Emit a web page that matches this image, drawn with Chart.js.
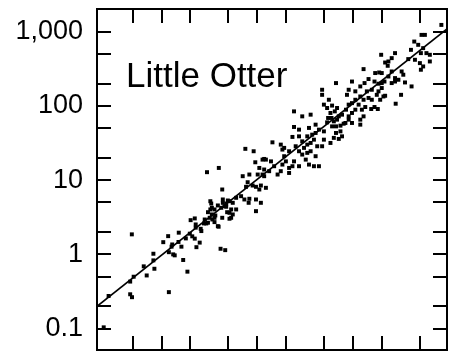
<!DOCTYPE html>
<html>
<head>
<meta charset="utf-8">
<script src="https://cdn.jsdelivr.net/npm/chart.js@4"></script>
<style>
  html, body { margin: 0; padding: 0; background: #fff; }
  canvas { display: block; }
</style>
</head>
<body>
<canvas id="chart" width="451" height="354"></canvas>
<script>
// Axis ranges (both axes logarithmic)
const xMin = 2.11, xMax = 9620;
const yMin = 0.0515, yMax = 2020;

// Inward tick marks on all four sides
const xTickValues = [5, 10, 20, 50, 100, 200, 500, 1000, 2000, 5000];
const yTickValues = [0.1, 0.2, 0.5, 1, 2, 5, 10, 20, 50, 100, 200, 500, 1000];
const yLabelValues = [0.1, 1, 10, 100, 1000];
const yLabels = ['0.1', '1', '10', '100', '1,000'];

const siteName = 'Little Otter';

// Fitted line, end points
const fitX = [2.11, 9620];
const fitY = [0.2, 1090];

// Observations - low end
const lowX = [2.48, 2.79, 4.88, 4.69, 5.1, 4.69, 4.9, 6.5, 6.98, 8.2,
              8.2, 8.4, 10.4, 11.7, 11.9, 12.7, 13.2, 13.7, 12.9, 15.1,
              15.0, 16.1, 16.8, 18.6, 11.9, 17.9, 19.7, 20.9, 22.2, 23.1,
              25.0, 22.7, 22.2, 20.1, 25.6, 26.0, 27.7, 29.3, 31.8, 33.5,
              35.7, 39.4, 30.5, 33.0, 33.5, 36.4, 38.7, 43.6, 47.3, 51.2,
              53.3, 49.2, 41.3, 46.2, 22.7];
const lowY = [0.104, 0.275, 1.86, 0.43, 0.5, 0.29, 0.265, 0.69, 0.52, 0.83,
              1.02, 0.64, 1.46, 1.76, 1.07, 1.27, 1.0, 0.97, 1.36, 1.96,
              1.47, 1.27, 0.84, 0.585, 0.31, 1.64, 1.9, 1.75, 1.63, 1.25,
              1.44, 2.53, 3.05, 2.89, 2.21, 2.06, 2.61, 2.61, 3.11, 3.45,
              2.72, 2.36, 3.70, 4.84, 4.24, 3.34, 4.56, 4.95, 4.38, 3.63,
              3.11, 5.32, 1.19, 1.14, 2.29];

// Observations - middle
const midX = [75.0, 91.6, 29.8, 39.6, 95.3, 113.5, 123, 105, 118, 82.6,
              70.4, 101, 113.5, 79.3, 76.3, 89.4, 96.9, 109, 123, 105,
              43.0, 67.7, 73.3, 82.6, 96.9, 109, 96.9, 81.2, 60.1, 55.4,
              51.2, 43.6, 47.3, 42.0, 45.4, 35.7, 32.3, 32.3, 35.7, 43.0,
              48.4, 53.3, 60.1, 55.4, 51.2, 28.2, 33.9, 38.7, 30.5];
const midY = [26.4, 24.5, 12.8, 14.6, 17.4, 18.9, 18.9, 14.6, 13.9, 11.9,
              11.3, 11.9, 11.9, 9.37, 8.13, 8.46, 8.13, 8.46, 7.88, 7.48,
              7.48, 6.08, 5.49, 5.61, 5.49, 4.95, 3.82, 4.95, 5.78, 4.95,
              5.20, 5.49, 4.84, 4.24, 4.46, 4.03, 5.20, 4.03, 3.11, 3.11,
              3.70, 4.03, 4.03, 3.45, 3.02, 2.95, 2.95, 2.40, 2.67];

// Observations - high end
const highX = [8400, 5210, 5650, 4375, 4810, 5420, 5865, 6365, 5130, 4040,
               2754, 1972, 2541, 2348, 2170, 2309, 3787, 4446, 5010, 5420,
               5130, 6365, 1291, 1708, 1880, 2000, 2541, 2348, 2754, 3228,
               3360, 2985, 3500, 4100, 2754, 2541, 2135, 2000, 1849, 1680,
               1455, 1322, 1193, 977, 1059, 902, 866, 665, 1397, 1574,
               1849, 2000, 1775, 2170, 1574, 1455, 1291, 1193, 1059, 977,
               902, 1146, 1345, 1552, 1818, 1680, 1926, 2083, 3184, 2797,
               1240, 1059, 977, 846, 902, 769, 902, 977, 834, 1193,
               1291, 1193, 476, 476, 560, 497, 537, 605, 682, 646,
               582, 711, 682, 631, 597, 550, 537, 605, 665, 740,
               800, 740, 665, 631, 711, 769, 582, 497, 497, 441,
               407, 407, 361, 295, 242, 476, 423, 375, 347, 391,
               361, 333, 308, 273, 295, 242, 273, 233, 273, 333,
               252, 215, 295, 333, 361, 321, 347, 407, 441, 391,
               273, 242, 233, 215, 191, 183, 176, 191, 215, 176,
               183, 199, 144, 118, 139, 150, 133, 163, 118];
const highY = [1233, 905, 905, 736, 665, 600, 514, 488, 514, 569,
               514, 488, 440, 397, 384, 347, 427, 418, 377, 340,
               307, 397, 313, 277, 282, 277, 291, 249, 237, 291,
               263, 225, 207, 183, 213, 203, 213, 203, 199, 213,
               230, 203, 183, 213, 157, 165, 141, 203, 157, 165,
               157, 174, 141, 137, 121, 128, 121, 134, 121, 109,
               104, 104, 96.6, 90.8, 90.8, 96.6, 121, 134, 141, 107,
               88.9, 88.9, 80.3, 88.9, 72.3, 76.2, 65.3, 58.9, 58.9, 55.9,
               72.3, 65.3, 165, 141, 121, 104, 93.7, 101, 93.7, 84.4,
               80.3, 72.3, 65.3, 61.9, 68.8, 68.8, 60.0, 53.0, 53.0, 54.2,
               57.6, 45.4, 43.2, 37.1, 35.9, 38.9, 31.7, 45.4, 35.1, 47.9,
               43.2, 55.9, 76.2, 72.3, 84.4, 28.6, 28.6, 41.0, 50.5, 35.1,
               31.7, 30.1, 27.2, 24.5, 33.3, 52.0, 47.9, 38.2, 38.9, 38.9,
               28.6, 24.5, 22.1, 23.3, 24.5, 18.9, 16.2, 21.0, 15.4, 15.4,
               15.4, 17.9, 15.4, 14.6, 21.0, 25.8, 30.1, 27.2, 12.5, 13.2,
               16.2, 17.9, 32.3, 19.3, 17.9, 15.4, 13.2, 11.9, 11.3];

const fontFamily = '"Liberation Sans", Arial, Helvetica, sans-serif';

function toPoints(xs, ys) {
    return xs.map((v, i) => ({ x: v, y: ys[i] }));
}

const obsPoints = toPoints(lowX, lowY)
    .concat(toPoints(midX, midY))
    .concat(toPoints(highX, highY));

// Frame, inward ticks and the site name
const frameAndTicks = {
    id: 'frameAndTicks',
    afterDatasetsDraw(chart) {
        const { ctx, chartArea: a, scales: { x, y } } = chart;
        const len = 14;
        ctx.save();
        ctx.strokeStyle = '#000';
        ctx.lineWidth = 2;
        ctx.beginPath();
        xTickValues.forEach(v => {
            const px = Math.round(x.getPixelForValue(v));
            ctx.moveTo(px, a.top); ctx.lineTo(px, a.top + len);
            ctx.moveTo(px, a.bottom); ctx.lineTo(px, a.bottom - len);
        });
        yTickValues.forEach(v => {
            const py = Math.round(y.getPixelForValue(v));
            ctx.moveTo(a.left, py); ctx.lineTo(a.left + len, py);
            ctx.moveTo(a.right, py); ctx.lineTo(a.right - len, py);
        });
        ctx.stroke();
        ctx.strokeRect(a.left, a.top, a.right - a.left, a.bottom - a.top);

        ctx.fillStyle = '#000';
        ctx.font = '35px ' + fontFamily;
        ctx.textBaseline = 'alphabetic';
        ctx.textAlign = 'left';
        ctx.fillText(siteName, a.left + 29, a.top + 78);
        ctx.restore();
    }
};

new Chart(document.getElementById('chart'), {
    type: 'scatter',
    data: {
        datasets: [
            {
                data: obsPoints,
                pointStyle: 'rect',
                pointRadius: 2.8,
                backgroundColor: '#000',
                borderWidth: 0
            },
            {
                data: toPoints(fitX, fitY),
                showLine: true,
                borderColor: '#000',
                borderWidth: 1.6,
                pointRadius: 0,
                fill: false
            }
        ]
    },
    options: {
        responsive: false,
        animation: false,
        devicePixelRatio: 1,
        layout: { padding: { top: 9, right: 2, bottom: 3, left: 0 } },
        plugins: {
            legend: { display: false },
            tooltip: { enabled: false }
        },
        scales: {
            x: {
                type: 'logarithmic',
                min: xMin,
                max: xMax,
                bounds: 'data',
                display: false
            },
            y: {
                type: 'logarithmic',
                min: yMin,
                max: yMax,
                bounds: 'data',
                afterFit(scale) {
                    scale.width = 97;
                    scale.paddingTop = 0;
                    scale.paddingBottom = 0;
                },
                afterBuildTicks(scale) {
                    scale.ticks = yLabelValues.map(v => ({ value: v }));
                },
                grid: { display: false, drawTicks: false },
                border: { display: false },
                ticks: {
                    padding: 14,
                    color: '#000',
                    autoSkip: false,
                    font: { family: fontFamily, size: 27 },
                    callback: v => yLabels[yLabelValues.indexOf(v)]
                }
            }
        }
    },
    plugins: [frameAndTicks]
});
</script>
</body>
</html>
